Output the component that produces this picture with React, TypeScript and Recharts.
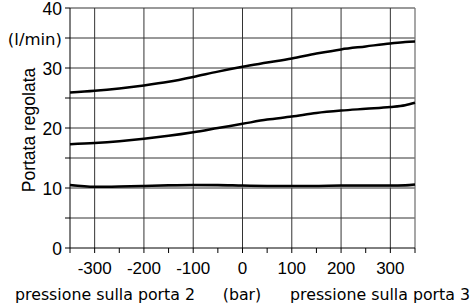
import React from "react";
import { LineChart, Line, XAxis, YAxis, ReferenceLine } from "recharts";

const pressure = [-350, -300, -250, -200, -150, -100, -50, 0, 50, 100, 150, 200, 250, 300, 330, 350];
const upperFlow = [25.9, 26.2, 26.6, 27.1, 27.7, 28.5, 29.4, 30.2, 30.9, 31.6, 32.4, 33.1, 33.6, 34.1, 34.35, 34.4];
const middleFlow = [17.3, 17.5, 17.8, 18.2, 18.7, 19.3, 20.0, 20.7, 21.4, 21.9, 22.5, 22.9, 23.2, 23.5, 23.8, 24.2];
const lowerFlow = [10.5, 10.2, 10.25, 10.35, 10.45, 10.5, 10.5, 10.4, 10.35, 10.35, 10.35, 10.4, 10.4, 10.4, 10.45, 10.6];
const lowerShadow = [10.4, 10.15, 10.2, 10.3, 10.35, 10.4, 10.35, 10.2, 10.15, 10.15, 10.15, 10.2, 10.2, 10.2, 10.25, 10.4];

const xTicks = [-350, -300, -250, -200, -150, -100, -50, 0, 50, 100, 150, 200, 250, 300, 350];
const xLabelled = [-300, -200, -100, 0, 100, 200, 300];
const xGrid = [-300, -200, -100, 0, 100, 200, 300];
const yTicks = [0, 5, 10, 15, 20, 25, 30, 35, 40];
const yLabels: Record<number, string> = { 0: "0", 10: "10", 20: "20", 30: "30", 35: "(l/min)", 40: "40" };
const yGrid = [5, 10, 15, 20, 25, 30, 35];

const data = pressure.map((p, i) => ({
  p,
  upper: upperFlow[i],
  middle: middleFlow[i],
  lower: lowerFlow[i],
  shadow: lowerShadow[i],
}));

const SANS = "'Liberation Sans', Arial, sans-serif";
const VERD = "'DejaVu Sans', Verdana, sans-serif";

const XTick = (props: any) => {
  const { x, y, payload } = props;
  if (!xLabelled.includes(payload.value)) return null;
  return (
    <text x={x} y={y + 18.5} textAnchor="middle" fontFamily={SANS} fontSize={17} fill="#000">
      {payload.value}
    </text>
  );
};

const YTick = (props: any) => {
  const { x, y, payload } = props;
  const label = yLabels[payload.value];
  if (!label) return null;
  const isUnit = payload.value === 35;
  return (
    <text
      x={x - 1}
      y={y + 7}
      textAnchor="end"
      fontFamily={isUnit ? VERD : SANS}
      fontSize={isUnit ? 16.5 : 17.5}
      fill="#000"
    >
      {label}
    </text>
  );
};

export default function App() {
  return (
    <div style={{ position: "absolute", left: 0, top: 0, width: 473, height: 304, background: "#fff" }}>
      <LineChart width={473} height={304} data={data} margin={{ top: 8, right: 58, left: 0, bottom: 0 }}>
        <XAxis
          dataKey="p"
          type="number"
          domain={[-350, 350]}
          ticks={xTicks}
          interval={0}
          height={56}
          tick={<XTick />}
          tickSize={5}
          tickMargin={2}
          axisLine={{ stroke: "#000", strokeWidth: 1 }}
          tickLine={{ stroke: "#000" }}
        />
        <YAxis
          type="number"
          domain={[0, 40]}
          ticks={yTicks}
          interval={0}
          width={70}
          tick={<YTick />}
          tickSize={5}
          tickMargin={2}
          axisLine={{ stroke: "#000", strokeWidth: 1 }}
          tickLine={{ stroke: "#000" }}
          label={{
            value: "Portata regolata",
            angle: -90,
            position: "insideLeft",
            dx: 24,
            dy: 2,
            style: { fontFamily: SANS, fontSize: 17.5, fill: "#000", textAnchor: "middle" },
          }}
        />
        {yGrid.map((v) => (
          <ReferenceLine key={"h" + v} y={v} stroke="#333" strokeWidth={1} ifOverflow="extendDomain" />
        ))}
        <ReferenceLine y={40} stroke="#777" strokeWidth={1.3} />
        {xGrid.map((v) => (
          <ReferenceLine key={"v" + v} x={v} stroke="#333" strokeWidth={1} />
        ))}
        <ReferenceLine x={350} stroke="#777" strokeWidth={1.3} />
        <Line type="monotone" dataKey="shadow" stroke="#999" strokeWidth={1.5} dot={false} isAnimationActive={false} />
        <Line type="monotone" dataKey="lower" stroke="#000" strokeWidth={2.5} dot={false} isAnimationActive={false} />
        <Line type="monotone" dataKey="middle" stroke="#000" strokeWidth={2.5} dot={false} isAnimationActive={false} />
        <Line type="monotone" dataKey="upper" stroke="#000" strokeWidth={2.5} dot={false} isAnimationActive={false} />
      </LineChart>
      <svg width={473} height={304} style={{ position: "absolute", left: 0, top: 0, pointerEvents: "none" }}>
        <text x={15} y={300} fontFamily={VERD} fontSize={15.8} fill="#000">pressione sulla porta 2</text>
        <text x={242} y={300} textAnchor="middle" fontFamily={VERD} fontSize={15.8} fill="#000">(bar)</text>
        <text x={290} y={300} fontFamily={VERD} fontSize={15.8} fill="#000">pressione sulla porta 3</text>
      </svg>
    </div>
  );
}
